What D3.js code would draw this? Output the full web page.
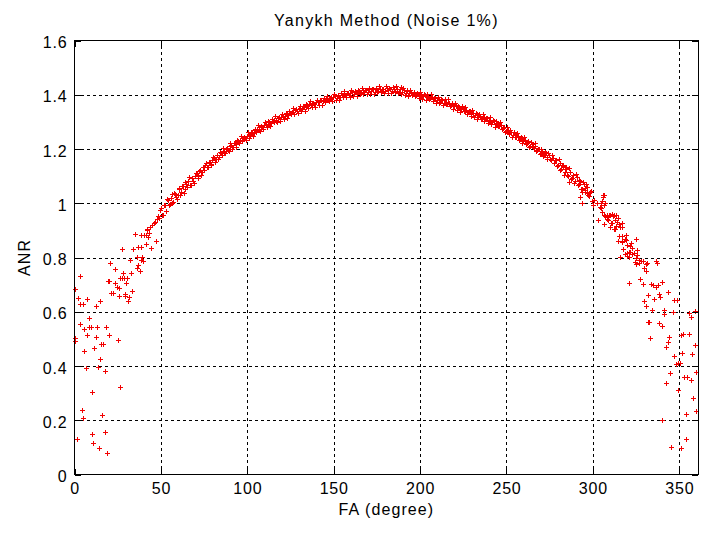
<!DOCTYPE html>
<html><head><meta charset="utf-8">
<script src="https://cdn.jsdelivr.net/npm/d3@7"></script>
<style>
html,body{margin:0;padding:0;background:#fff;}
svg{display:block;}
text{font-family:Arial,"Liberation Sans",Helvetica,sans-serif;fill:#000;}
</style></head><body>
<svg id="chart" width="710" height="533"></svg>
<script>
// ---- data ----
const chartTitle = "Yanykh Method (Noise 1%)";
const xLabel = "FA (degree)";
const yLabel = "ANR";
const xTicks = [0, 50, 100, 150, 200, 250, 300, 350];
const yTicks = [0, 0.2, 0.4, 0.6, 0.8, 1, 1.2, 1.4, 1.6];
const xDomain = [0, 361];
const yDomain = [0, 1.6];

// main band of the curve, [FA, ANR]
const curvePoints = [
[50,0.972],[51,0.955],[52,0.99],[53,0.97],[54,1.012],[55,0.99],[56,1.018],[57,1.0],[58,1.035],[59,1.02],
[60,1.03],[61,1.052],[62,1.04],[63,1.06],[64,1.05],[65,1.07],[66,1.082],[67,1.065],[68,1.09],[69,1.08],
[70,1.1],[71,1.108],[72,1.098],[73,1.12],[74,1.112],[75,1.13],[76,1.138],[77,1.13],[78,1.15],[79,1.142],
[80,1.158],[81,1.165],[82,1.16],[83,1.176],[84,1.17],[85,1.184],[86,1.19],[87,1.186],[88,1.2],[89,1.195],
[90,1.208],[91,1.212],[92,1.205],[93,1.22],[94,1.218],[95,1.228],[96,1.233],[97,1.228],[98,1.24],[99,1.237],
[100,1.246],[101,1.252],[102,1.249],[103,1.26],[104,1.257],[105,1.268],[106,1.272],[107,1.27],[108,1.28],[109,1.278],
[110,1.287],[111,1.291],[112,1.288],[113,1.297],[114,1.295],[115,1.302],[116,1.306],[117,1.303],[118,1.312],[119,1.309],
[120,1.317],[121,1.321],[122,1.318],[123,1.327],[124,1.325],[125,1.332],[126,1.336],[127,1.333],[128,1.341],[129,1.339],
[130,1.347],[131,1.35],[132,1.347],[133,1.356],[134,1.353],[135,1.36],[136,1.363],[137,1.36],[138,1.367],[139,1.364],
[140,1.37],[141,1.373],[142,1.37],[143,1.377],[144,1.374],[145,1.38],[146,1.383],[147,1.379],[148,1.386],[149,1.383],
[150,1.389],[151,1.392],[152,1.388],[153,1.395],[154,1.391],[155,1.397],[156,1.4],[157,1.396],[158,1.403],[159,1.398],
[160,1.405],[161,1.408],[162,1.401],[163,1.41],[164,1.404],[165,1.412],[166,1.406],[167,1.415],[168,1.408],[169,1.416],
[170,1.409],[171,1.418],[172,1.411],[173,1.419],[174,1.41],[175,1.42],[176,1.412],[177,1.421],[178,1.413],[179,1.42],
[180,1.412],[181,1.422],[182,1.414],[183,1.42],[184,1.411],[185,1.421],[186,1.413],[187,1.42],[188,1.41],[189,1.425],
[190,1.408],[191,1.414],[192,1.406],[193,1.411],[194,1.403],[195,1.407],[196,1.401],[197,1.405],[198,1.398],[199,1.402],
[200,1.396],[201,1.399],[202,1.392],[203,1.396],[204,1.389],[205,1.393],[206,1.385],[207,1.389],[208,1.381],[209,1.385],
[210,1.377],[211,1.381],[212,1.373],[213,1.377],[214,1.369],[215,1.373],[216,1.364],[217,1.369],[218,1.36],[219,1.364],
[220,1.355],[221,1.359],[222,1.35],[223,1.354],[224,1.344],[225,1.348],[226,1.339],[227,1.343],[228,1.333],[229,1.337],
[230,1.327],[231,1.331],[232,1.322],[233,1.326],[234,1.317],[235,1.321],[236,1.312],[237,1.316],[238,1.307],[239,1.311],
[240,1.302],[241,1.306],[242,1.296],[243,1.3],[244,1.289],[245,1.294],[246,1.283],[247,1.286],[248,1.274],[249,1.278],
[250,1.266],[251,1.27],[252,1.258],[253,1.262],[254,1.25],[255,1.254],[256,1.242],[257,1.247],[258,1.234],[259,1.24],
[260,1.228],[261,1.233],[262,1.219],[263,1.225],[264,1.21],[265,1.217],[266,1.203],[267,1.209],[268,1.193],[269,1.2],
[270,1.185],[271,1.192],[272,1.176],[273,1.183],[274,1.168],[275,1.176],[276,1.159],[277,1.166],[278,1.148],[279,1.157],
[280,1.138],[281,1.147],[282,1.125],[283,1.136],[284,1.112],[285,1.124],[286,1.1],[287,1.112],[288,1.09],[289,1.104],
[290,1.08],[291,1.095],[292,1.068],[293,1.082],[294,1.052],[295,1.07],[296,1.04],[297,1.058],[298,1.025],[299,1.045],
[300,1.005]
];

// second pass of the band (points between whole degrees), [FA, ANR]
const bandPoints = [
[50.5,0.982],[51.5,0.956],[52.5,0.99],[53.5,0.968],[54.5,1.011],[55.5,0.995],[56.5,1.031],[57.5,1.004],[58.5,1.031],[59.5,1.013],
[60.5,1.056],[61.5,1.028],[62.5,1.06],[63.5,1.036],[64.5,1.077],[65.5,1.059],[66.5,1.095],[67.5,1.067],[68.5,1.092],[69.5,1.074],
[70.5,1.11],[71.5,1.093],[72.5,1.117],[73.5,1.103],[74.5,1.132],[75.5,1.122],[76.5,1.148],[77.5,1.131],[78.5,1.15],[79.5,1.14],
[80.5,1.17],[81.5,1.152],[82.5,1.175],[83.5,1.16],[84.5,1.188],[85.5,1.177],[86.5,1.202],[87.5,1.184],[88.5,1.202],[89.5,1.19],
[90.5,1.219],[91.5,1.2],[92.5,1.222],[93.5,1.206],[94.5,1.233],[95.5,1.221],[96.5,1.245],[97.5,1.226],[98.5,1.243],[99.5,1.231],
[100.5,1.259],[101.5,1.24],[102.5,1.262],[103.5,1.246],[104.5,1.273],[105.5,1.261],[106.5,1.285],[107.5,1.266],[108.5,1.283],[109.5,1.271],
[110.5,1.299],[111.5,1.279],[112.5,1.3],[113.5,1.283],[114.5,1.309],[115.5,1.296],[116.5,1.319],[117.5,1.299],[118.5,1.315],[119.5,1.302],
[120.5,1.329],[121.5,1.309],[122.5,1.33],[123.5,1.313],[124.5,1.339],[125.5,1.326],[126.5,1.349],[127.5,1.329],[128.5,1.345],[129.5,1.332],
[130.5,1.358],[131.5,1.337],[132.5,1.358],[133.5,1.34],[134.5,1.365],[135.5,1.351],[136.5,1.374],[137.5,1.353],[138.5,1.368],[139.5,1.354],
[140.5,1.38],[141.5,1.359],[142.5,1.38],[143.5,1.362],[144.5,1.387],[145.5,1.373],[146.5,1.395],[147.5,1.374],[148.5,1.389],[149.5,1.374],
[150.5,1.4],[151.5,1.378],[152.5,1.398],[153.5,1.379],[154.5,1.404],[155.5,1.389],[156.5,1.411],[157.5,1.389],[158.5,1.404],[159.5,1.389],
[160.5,1.415],[161.5,1.393],[162.5,1.412],[163.5,1.393],[164.5,1.417],[165.5,1.402],[166.5,1.423],[167.5,1.401],[168.5,1.415],[169.5,1.4],
[170.5,1.424],[171.5,1.402],[172.5,1.42],[173.5,1.401],[174.5,1.424],[175.5,1.409],[176.5,1.429],[177.5,1.407],[178.5,1.42],[179.5,1.405],
[180.5,1.429],[181.5,1.406],[182.5,1.424],[183.5,1.404],[184.5,1.427],[185.5,1.41],[186.5,1.43],[187.5,1.405],[188.5,1.418],[189.5,1.4],
[190.5,1.423],[191.5,1.399],[192.5,1.415],[193.5,1.394],[194.5,1.415],[195.5,1.398],[196.5,1.41],[197.5,1.392],[198.5,1.404],[199.5,1.386],
[200.5,1.409],[201.5,1.384],[202.5,1.4],[203.5,1.379],[204.5,1.4],[205.5,1.383],[206.5,1.401],[207.5,1.376],[208.5,1.387],[209.5,1.369],
[210.5,1.391],[211.5,1.366],[212.5,1.382],[213.5,1.36],[214.5,1.381],[215.5,1.363],[216.5,1.381],[217.5,1.355],[218.5,1.366],[219.5,1.347],
[220.5,1.369],[221.5,1.343],[222.5,1.358],[223.5,1.336],[224.5,1.356],[225.5,1.337],[226.5,1.354],[227.5,1.328],[228.5,1.338],[229.5,1.319],
[230.5,1.341],[231.5,1.315],[232.5,1.331],[233.5,1.308],[234.5,1.329],[235.5,1.31],[236.5,1.328],[237.5,1.302],[238.5,1.313],[239.5,1.294],
[240.5,1.315],[241.5,1.289],[242.5,1.304],[243.5,1.281],[244.5,1.301],[245.5,1.282],[246.5,1.298],[247.5,1.271],[248.5,1.28],[249.5,1.26],
[250.5,1.28],[251.5,1.253],[252.5,1.267],[253.5,1.243],[254.5,1.262],[255.5,1.242],[256.5,1.258],[257.5,1.232],[258.5,1.241],[259.5,1.222],
[260.5,1.242],[261.5,1.215],[262.5,1.229],[263.5,1.205],[264.5,1.224],[265.5,1.204],[266.5,1.219],[267.5,1.192],[268.5,1.2],[269.5,1.18],
[270.5,1.2],[271.5,1.173],[272.5,1.187],[273.5,1.163],[274.5,1.182],[275.5,1.161],[276.5,1.176],[277.5,1.148],[278.5,1.156],[279.5,1.135],
[280.5,1.16],[281.5,1.12],[282.5,1.14],[283.5,1.104],[284.5,1.133],[285.5,1.103],[286.5,1.128],[287.5,1.089],[288.5,1.103],[289.5,1.074],
[290.5,1.105],[291.5,1.065],[292.5,1.085],[293.5,1.049],[294.5,1.078],[295.5,1.047],[296.5,1.069],[297.5,1.027],[298.5,1.038],[299.5,1.006]
];

// scattered points at the low-FA end, [FA, ANR]
const leftPoints = [
[42,0.905],[44,0.912],[45,0.918],[46.2,0.926],[48,0.94],[48.5,0.95],[49,0.945],[47,0.93],
[42.4,0.90],[35.1,0.884],[39,0.88],[40.5,0.88],[41.8,0.882],[43.5,0.89],[43,0.875],[47.4,0.859],[41.6,0.848],
[37.3,0.838],[38.6,0.838],[44.3,0.834],[27.5,0.829],[34.3,0.829],[36.2,0.80],[39.6,0.80],[39,0.79],[40,0.785],
[32.4,0.79],[20.8,0.779],[37,0.772],[36.5,0.76],[38,0.75],[23.5,0.754],[3.5,0.731],[28.1,0.74],[33,0.74],
[26.8,0.722],[27.5,0.722],[29,0.722],[30.8,0.722],[19.5,0.713],[20.5,0.713],[23.9,0.703],[30,0.703],[25,0.69],
[26,0.685],[0.4,0.681],[21.6,0.666],[22.5,0.666],[29.5,0.665],[29.6,0.655],[33.3,0.675],[26.2,0.656],[32,0.651],
[2.5,0.65],[7.3,0.646],[31,0.638],[15.2,0.638],[3.2,0.628],[5,0.628],[12.7,0.619],[8.9,0.576],[3.5,0.553],
[8.7,0.543],[9.8,0.543],[13.5,0.543],[18.5,0.543],[5.8,0.535],[7.3,0.511],[12.7,0.506],[20,0.511],[0.4,0.50],
[0.4,0.49],[25.2,0.494],[15.8,0.478],[16.8,0.478],[11.8,0.465],[5.8,0.455],[15,0.424],[6.8,0.391],[13.7,0.396],
[17.7,0.38],[26.6,0.321],[10.2,0.301],[4.4,0.235],[5.4,0.208],[16,0.216],[17.7,0.156],[10.4,0.146],[1.5,0.129],
[10.8,0.114],[14.2,0.095],[19.3,0.076]
];

// scattered points at the high-FA end, [FA, ANR]
const rightPoints = [
[286.6,1.077],[283,1.14],[284,1.13],[294,1.04],[296,1.055],[297,1.035],[284.3,1.113],[293,1.02],[294,1.0],
[300.5,0.99],[302.5,1.0],[304.5,0.985],[306,1.02],[307,0.99],[301,1.01],[303,0.938],[305,0.998],
[306,1.029],[307,1.029],[305.6,1.005],[307.5,1.0],[305,0.98],[306.8,0.955],[308.7,0.955],[309.7,0.953],
[311.6,0.958],[312.6,0.955],[313.5,0.955],[308.3,0.94],[312.8,0.938],[314.7,0.942],[311.6,0.925],[313.5,0.915],
[315.4,0.92],[317.4,0.925],[312.6,0.902],[315.4,0.877],[317.4,0.879],[319.3,0.882],[317,0.86],[319.3,0.862],
[322.3,0.853],[325,0.865],[323.2,0.835],[326,0.827],[321.3,0.82],[323.2,0.81],[325.6,0.806],[319,0.81],
[320.3,0.804],[324.5,0.78],[325.5,0.776],[327,0.79],[328.3,0.786],[329.3,0.784],[326.7,0.777],[331.8,0.777],
[330.8,0.775],[336.6,0.787],[337.5,0.778],[329.8,0.758],[330.8,0.748],[327.5,0.72],[320.9,0.703],[329,0.699],
[333.8,0.699],[334.8,0.697],[336.6,0.69],[338.2,0.695],[340.5,0.708],[332.4,0.66],[335.7,0.644],[339,0.652],
[338.6,0.665],[344,0.67],[330,0.636],[331,0.62],[347,0.641],[349,0.641],[334.7,0.605],[341.5,0.605],[341.5,0.59],
[346.7,0.598],[355.8,0.593],[356.8,0.578],[359.4,0.6],[332,0.561],[332.6,0.561],[338.4,0.558],[340.3,0.547],
[351,0.512],[352.5,0.517],[355.8,0.515],[344.4,0.506],[333.2,0.5],[343.5,0.488],[342.5,0.468],[359.4,0.476],
[352,0.445],[347.3,0.436],[357.5,0.442],[349.6,0.411],[350.5,0.408],[348.2,0.405],[344.8,0.371],[360,0.377],
[353,0.356],[355,0.356],[356.8,0.347],[342.5,0.334],[349.6,0.31],[358.4,0.281],[359.8,0.233],[354,0.221],
[340,0.2],[354,0.129],[345.7,0.1],[351.5,0.097],
[305.5,0.965],[307.5,0.95],[309.3,0.948],[310,0.955],[312,0.95],[309.3,0.935],[311,0.925],[314,0.93],
[307,0.922],[310,0.912],[313,0.905],[316,0.912],[317,0.91],[315,0.86],[317,0.855],[319,0.865],[320,0.845],
[322,0.84],[318,0.83],[320,0.815],[322,0.82],[324,0.815],[321,0.8],[316,0.8],[325,0.795]
];

// ---- drawing ----
const svg = d3.select("#chart");
const L = 74.5, R = 698.3, T = 40.5, B = 474.5;
const x = d3.scaleLinear().domain(xDomain).range([L, R]);
const y = d3.scaleLinear().domain(yDomain).range([B, T]);

// grid
const gx = svg.append("g").attr("transform", `translate(0,${B})`)
  .call(d3.axisBottom(x).tickValues(xTicks.filter(v => v > 0)).tickSize(-(B - T)).tickFormat(""));
const gy = svg.append("g").attr("transform", `translate(${L},0)`)
  .call(d3.axisLeft(y).tickValues(yTicks.filter(v => v > 0 && v < 1.6)).tickSize(-(R - L)).tickFormat(""));
[gx, gy].forEach(g => {
  g.select(".domain").remove();
  g.selectAll(".tick line").attr("stroke", "#000").attr("stroke-dasharray", "3,3").attr("shape-rendering", "crispEdges");
});

// markers
const allPts = curvePoints.concat(bandPoints, leftPoints, rightPoints);
const pathD = allPts.map(([fa, v]) => {
  const cx = Math.floor(x(fa)) + 0.5, cy = Math.floor(y(v)) + 0.5;
  return `M${cx - 2.5},${cy}H${cx + 2.5}M${cx},${cy - 2.5}V${cy + 2.5}`;
}).join("");
svg.append("path").attr("d", pathD).attr("fill", "none").attr("stroke", "#f20000").attr("stroke-width", 1);

// axes with inward ticks
const tickLen = 6;
const ab = svg.append("g").attr("transform", `translate(0,${B})`)
  .call(d3.axisBottom(x).tickValues(xTicks).tickSizeInner(-tickLen).tickSizeOuter(0).tickPadding(8).tickFormat(d3.format("d")));
const at = svg.append("g").attr("transform", `translate(0,${T})`)
  .call(d3.axisTop(x).tickValues(xTicks).tickSizeInner(-tickLen).tickSizeOuter(0).tickFormat(""));
const al = svg.append("g").attr("transform", `translate(${L},0)`)
  .call(d3.axisLeft(y).tickValues(yTicks).tickSizeInner(-tickLen).tickSizeOuter(0).tickPadding(7).tickFormat(d => d3.format("")(d)));
const ar = svg.append("g").attr("transform", `translate(${R},0)`)
  .call(d3.axisRight(y).tickValues(yTicks).tickSizeInner(-tickLen).tickSizeOuter(0).tickFormat(""));
[ab, at, al, ar].forEach(g => {
  g.select(".domain").remove();
  g.selectAll(".tick line").attr("stroke", "#000").attr("shape-rendering", "crispEdges");
  g.selectAll("text").attr("font-size", 16).attr("letter-spacing", "0.8px").attr("fill", "#000")
    .attr("font-family", "Arial, 'Liberation Sans', sans-serif");
});
ab.selectAll("text").attr("dy", "0.71em");
al.selectAll("text").attr("dy", "0.45em");

// box
svg.append("rect").attr("x", L).attr("y", T).attr("width", R - L).attr("height", B - T)
  .attr("fill", "none").attr("stroke", "#000").attr("shape-rendering", "crispEdges");

// titles
svg.append("text").attr("x", (L + R) / 2).attr("y", 26).attr("text-anchor", "middle")
  .attr("font-size", 16).attr("letter-spacing", "1.3px").text(chartTitle);
svg.append("text").attr("x", (L + R) / 2).attr("y", 515).attr("text-anchor", "middle")
  .attr("font-size", 16).attr("letter-spacing", "1.1px").text(xLabel);
svg.append("text").attr("transform", `translate(30,${(T + B) / 2}) rotate(-90)`).attr("text-anchor", "middle")
  .attr("font-size", 16).attr("letter-spacing", "1.1px").text(yLabel);
</script>
</body></html>
